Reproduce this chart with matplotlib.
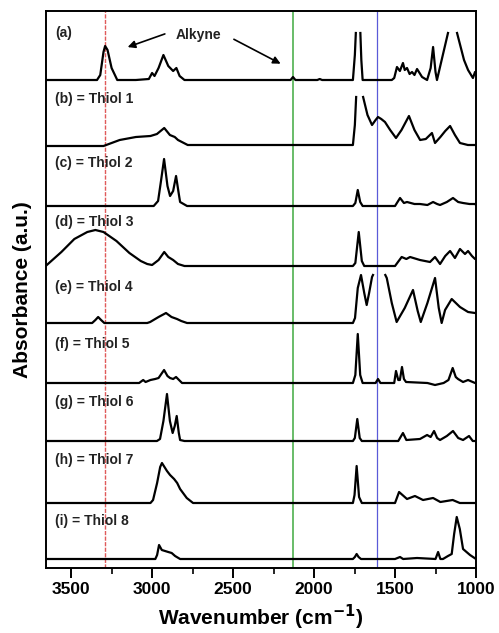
import numpy as np
import matplotlib
matplotlib.use("Agg")
import matplotlib.pyplot as plt

plt.rcParams['font.family'] = ['Liberation Sans', 'DejaVu Sans']
plt.rcParams['font.weight'] = 'bold'
plt.rcParams['mathtext.default'] = 'bf'

nan = np.nan

labels = ["(a)", "(b) = Thiol 1", "(c) = Thiol 2", "(d) = Thiol 3", "(e) = Thiol 4",
          "(f) = Thiol 5", "(g) = Thiol 6", "(h) = Thiol 7", "(i) = Thiol 8"]
offsets = [488, 423, 362, 302, 245, 185, 127, 65, 9]
label_y = [535, 469, 405, 346, 281, 224, 166, 108, 47]

wn_a = [3650, 3340, 3320, 3300, 3290, 3275, 3250, 3215, 3100, 3020, 3000, 2985, 2960, 2930, 2900, 2870,
        2850, 2830, 2800, 2500, 2145, 2130, 2115, 1980, 1965, 1950, 1760, 1748, 1742, nan, 1714, 1708,
        1700, 1610, 1520, 1505, 1488, 1470, 1451, 1440, 1426, 1410, 1395, 1380, 1364, 1333, 1302, 1280,
        1265, 1250, 1241, 1173, nan, 1117, 1074, 1049, 1019, 1006, 1000]
ab_a = [0, 0, 5, 28, 34, 30, 12, 0, 0, 1, 7, 4, 12, 25, 14, 9,
        12, 4, 0, 0, 0, 3, 0, 0, 1, 0, 0, 25, 47, nan, 47, 20,
        0, 0, 0, 2, 13, 9, 17, 10, 12, 6, 8, 5, 11, 3, 0, 12,
        33, 8, 0, 47, nan, 47, 20, 10, 2, 8, 7]

wn_b = [3650, 3300, 3250, 3200, 3100, 3010, 2970, 2925, 2890, 2860, 2840, 2780, 1760, 1748, 1740, nan,
        1697, 1670, 1642, 1620, 1605, 1585, 1562, 1530, 1494, 1460, 1414, 1380, 1345, 1310, 1272, 1253,
        1220, 1190, 1160, 1130, 1099, 1050, 1000]
ab_b = [-1, -1, 2, 5, 8, 9, 11, 17, 10, 8, 5, 0, 0, 20, 48, nan,
        48, 30, 20, 25, 28, 26, 23, 15, 7, 15, 29, 15, 5, 6, 12, 2,
        8, 14, 19, 10, 2, 0, 0]

wn_c = [3650, 2990, 2963, 2945, 2926, 2905, 2889, 2870, 2852, 2835, 2827, 2784, 1760, 1745, 1730, 1715,
        1700, 1500, 1469, 1445, 1426, 1380, 1346, 1300, 1265, 1240, 1222, 1180, 1142, 1110, 1080, 1040,
        1006, 1000]
ab_c = [0, 0, 5, 25, 47, 20, 10, 15, 30, 12, 4, 0, 0, 3, 16, 4,
        0, 0, 8, 3, 4, 2, 2, 1, 4, 2, 1, 4, 8, 4, 3, 2,
        2, 1]

wn_d = [3650, 3560, 3480, 3400, 3350, 3300, 3220, 3140, 3070, 3030, 3000, 2960, 2925, 2900, 2870, 2840,
        2800, 1760, 1745, 1724, 1705, 1690, 1500, 1459, 1430, 1407, 1346, 1284, 1253, 1222, 1190, 1160,
        1130, 1099, 1068, 1049, 1025, 1006, 1000]
ab_d = [1, 14, 27, 34, 36, 34, 25, 13, 5, 2, 1, 6, 14, 9, 6, 2,
        0, 0, 3, 34, 5, 0, 0, 9, 7, 9, 6, 4, 9, 2, 10, 15,
        8, 17, 12, 15, 10, 7, 7]

wn_e = [3650, 3370, 3350, 3333, 3315, 3295, 3030, 3012, 2960, 2914, 2880, 2846, 2820, 2784, 1760, 1747,
        1730, 1710, 1690, 1675, 1660, 1642, 1636, nan, 1560, 1551, 1520, 1490, 1440, 1389, 1360, 1341,
        1300, 1253, 1230, 1212, 1191, 1150, 1099, 1049, 1006, 1000]
ab_e = [0, 0, 3, 6, 3, 0, 0, 1, 6, 10, 6, 4, 2, 0, 0, 5,
        35, 48, 30, 18, 30, 46, 48, nan, 48, 45, 20, 1, 15, 33, 12, 1,
        20, 45, 15, 0, 13, 24, 16, 11, 10, 10]

wn_f = [3650, 3080, 3055, 3040, 3010, 2981, 2960, 2926, 2905, 2889, 2870, 2852, 2815, 1760, 1745, 1730,
        1715, 1700, 1620, 1605, 1590, 1505, 1494, 1480, 1470, 1457, 1445, 1432, 1300, 1253, 1200, 1170,
        1144, 1125, 1111, 1080, 1049, 1006, 1000]
ab_f = [0, 0, 3, 1, 3, 4, 5, 13, 7, 5, 4, 6, 0, 0, 8, 49,
        8, 0, 0, 4, 0, 0, 12, 3, 3, 16, 4, 1, 0, -2, 0, 3,
        15, 6, 4, 1, 3, 0, 0]

wn_g = [3650, 2970, 2951, 2930, 2908, 2890, 2873, 2860, 2848, 2835, 2827, 2800, 1760, 1748, 1733, 1718,
        1705, 1480, 1451, 1430, 1346, 1302, 1280, 1259, 1240, 1222, 1180, 1142, 1110, 1080, 1043, 1020,
        1006, 1000]
ab_g = [0, 0, 2, 20, 47, 20, 8, 15, 25, 8, 1, 0, 0, 3, 22, 3,
        0, 0, 8, 1, 2, 6, 4, 10, 3, 1, 5, 10, 3, 1, 5, 0,
        0, 0]

wn_h = [3650, 3010, 2994, 2969, 2950, 2939, 2908, 2889, 2864, 2845, 2827, 2786, 2747, 1760, 1750, 1737,
        1722, 1705, 1500, 1475, 1440, 1426, 1377, 1327, 1265, 1220, 1144, 1100, 1000]
ab_h = [0, 0, 3, 20, 36, 40, 32, 28, 24, 20, 14, 5, 0, 0, 8, 37,
        6, 0, 0, 11, 6, 4, 7, 3, 5, 1, 3, 0, 0]

wn_i = [3650, 2980, 2969, 2957, 2940, 2920, 2900, 2879, 2858, 2827, 1760, 1748, 1737, 1725, 1710, 1500,
        1469, 1450, 1364, 1250, 1234, 1220, 1204, 1173, 1150, 1135, 1119, 1100, 1080, 1037, 1000]
ab_i = [0, 0, 4, 14, 9, 8, 7, 6, 3, 0, 0, 2, 5, 2, 0, 0,
        2, 0, 1, 0, 7, 0, 0, 3, 5, 25, 42, 30, 10, 4, 0]

wns = [wn_a, wn_b, wn_c, wn_d, wn_e, wn_f, wn_g, wn_h, wn_i]
abss = [ab_a, ab_b, ab_c, ab_d, ab_e, ab_f, ab_g, ab_h, ab_i]

vlines = [3290, 2130, 1609]
vline_colors = ['#e05a5a', '#4fb04f', '#5a5ad8']

xticks = [3500, 3000, 2500, 2000, 1500, 1000]

fig = plt.figure(figsize=(4.99, 6.33), dpi=100)
ax = fig.add_axes([46/499, 1-568/633, 430/499, 557/633])

ax.axvline(vlines[0], color=vline_colors[0], lw=1.0, ls=(0, (3, 1)), zorder=1)
ax.axvline(vlines[1], color=vline_colors[1], lw=1.2, zorder=1)
ax.axvline(vlines[2], color=vline_colors[2], lw=0.9, zorder=1)

for wn, ab, off in zip(wns, abss, offsets):
    ax.plot(np.array(wn, float), np.array(ab, float) + off, color='black', lw=1.6, zorder=3)

for lab, y in zip(labels, label_y):
    ax.text(3600, y, lab, fontsize=10, fontweight='bold', ha='left', va='center', color='#222222')

ax.text(2716, 533, "Alkyne", fontsize=10, fontweight='bold', ha='center', va='center', color='#222222')
ax.annotate("", xy=(3167, 520), xytext=(2905, 535),
            arrowprops=dict(arrowstyle='-|>', color='black', lw=1.2, mutation_scale=11))
ax.annotate("", xy=(2191, 503), xytext=(2510, 530),
            arrowprops=dict(arrowstyle='-|>', color='black', lw=1.2, mutation_scale=11))

ax.set_xlim(3655, 1000)
ax.set_ylim(0, 557)
ax.set_xticks(xticks)
ax.set_xticklabels([str(t) for t in xticks], fontsize=12.5, fontweight='bold')
ax.set_xticks([3250, 2750, 2250, 1750, 1250], minor=True)
ax.set_yticks([])
ax.tick_params(axis='x', which='major', direction='out', length=7, width=1.4, pad=3)
ax.tick_params(axis='x', which='minor', direction='out', length=4, width=1.2)
for s in ax.spines.values():
    s.set_linewidth(1.4)

ax.set_xlabel("Wavenumber (cm$^{-1}$)", fontsize=15, fontweight='bold', labelpad=4)
ax.set_ylabel("Absorbance (a.u.)", fontsize=15, fontweight='bold', labelpad=10)

fig.savefig("out.png", dpi=100)
